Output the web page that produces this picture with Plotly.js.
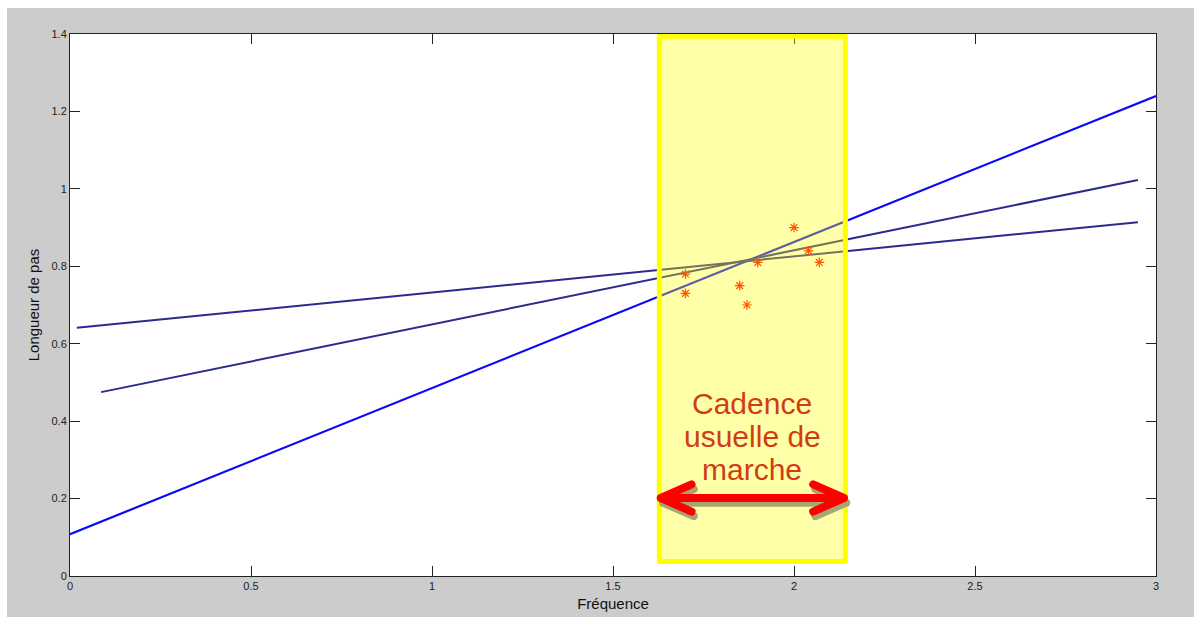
<!DOCTYPE html>
<html>
<head>
<meta charset="utf-8">
<script src="https://cdn.plot.ly/plotly-3.0.1.min.js"></script>
<style>
  html, body { margin: 0; padding: 0; background: #ffffff; }
  #chart { position: absolute; left: 7px; top: 8px; width: 1187px; height: 609px; }
  .shapelayer path { stroke-linecap: round; stroke-linejoin: round; }
</style>
</head>
<body>
<div id="chart"></div>
<script>
// Regression lines (endpoints)
const line1X = [0, 3];
const line1Y = [0.108, 1.240];
const line2X = [0.086, 2.95];
const line2Y = [0.475, 1.023];
const line3X = [0.019, 2.95];
const line3Y = [0.641, 0.914];

// Measured points (red asterisks)
const freq = [1.70, 1.70, 1.85, 1.87, 1.90, 2.00, 2.04, 2.07];
const stepLen = [0.78, 0.73, 0.75, 0.70, 0.81, 0.90, 0.84, 0.81];

// Highlighted band (usual walking cadence)
const bandX = [1.628, 2.142];
const bandY = [0.0375, 1.394];
const arrowY = 0.2015;
const noteLines = ['Cadence', 'usuelle de', 'marche'];
const noteY = [0.4456, 0.3604, 0.2751];

const xTicks = [0, 0.5, 1, 1.5, 2, 2.5, 3];
const xTickText = ['0', '0.5', '1', '1.5', '2', '2.5', '3'];
const yTicks = [0, 0.2, 0.4, 0.6, 0.8, 1, 1.2, 1.4];
const yTickText = ['0', '0.2', '0.4', '0.6', '0.8', '1', '1.2', '1.4'];

const traces = [
  { x: line1X, y: line1Y, mode: 'lines', line: { color: '#0a0af5', width: 2.2 }, hoverinfo: 'skip' },
  { x: line2X, y: line2Y, mode: 'lines', line: { color: '#2b2b8e', width: 2 }, hoverinfo: 'skip' },
  { x: line3X, y: line3Y, mode: 'lines', line: { color: '#2b2b8e', width: 2 }, hoverinfo: 'skip' },
  { x: freq, y: stepLen, mode: 'markers',
    marker: { symbol: 'asterisk-open', size: 8, color: '#ff0000', line: { color: '#ff0000', width: 1.2 } } }
];

// arrow geometry derived from band
const tipL = bandX[0] + 0.004, tipR = bandX[1] - 0.004;
const headDx = 0.085, headDy = 0.035;
const sdx = 0.006, sdy = -0.012;
function arrowPath(dx, dy) {
  const y = arrowY + dy;
  const l = tipL + dx, r = tipR + dx;
  return 'M' + l + ',' + y + ' L' + r + ',' + y +
    ' M' + (l + headDx) + ',' + (y + headDy) + ' L' + l + ',' + y + ' L' + (l + headDx) + ',' + (y - headDy) +
    ' M' + (r - headDx) + ',' + (y + headDy) + ' L' + r + ',' + y + ' L' + (r - headDx) + ',' + (y - headDy);
}

const shapes = [
  { type: 'rect', xref: 'x', yref: 'y', x0: bandX[0], x1: bandX[1], y0: bandY[0], y1: bandY[1],
    fillcolor: 'rgba(255,255,0,0.34)', line: { color: '#ffff00', width: 5 }, layer: 'above' },
  { type: 'path', xref: 'x', yref: 'y', path: arrowPath(sdx, sdy),
    line: { color: '#a6a672', width: 8 }, layer: 'above' },
  { type: 'path', xref: 'x', yref: 'y', path: arrowPath(0, 0),
    line: { color: '#ff0000', width: 8 }, layer: 'above' }
];

const annotations = noteLines.map((t, i) => ({
  x: (bandX[0] + bandX[1]) / 2, y: noteY[i], xref: 'x', yref: 'y',
  text: t, showarrow: false,
  font: { family: 'Liberation Sans, Arial, sans-serif', size: 30, color: '#d23c14' }
}));

const axisCommon = {
  showgrid: false, zeroline: false, showline: true, mirror: 'ticks',
  linecolor: '#222', linewidth: 1, ticks: 'inside', ticklen: 10, tickcolor: '#222',
  tickfont: { family: 'Liberation Sans, Arial, sans-serif', size: 11, color: '#222' }
};

const layout = {
  width: 1187, height: 609,
  margin: { l: 63, r: 38, t: 26, b: 41 },
  paper_bgcolor: '#cccccc', plot_bgcolor: '#ffffff',
  showlegend: false,
  xaxis: Object.assign({}, axisCommon, {
    range: [0, 3], tickvals: xTicks, ticktext: xTickText,
    title: { text: 'Fréquence', standoff: 7, font: { family: 'Liberation Sans, Arial, sans-serif', size: 15, color: '#111' } }
  }),
  yaxis: Object.assign({}, axisCommon, {
    range: [0, 1.4], tickvals: yTicks, ticktext: yTickText,
    title: { text: 'Longueur de pas', standoff: 8, font: { family: 'Liberation Sans, Arial, sans-serif', size: 15, color: '#111' } }
  }),
  shapes: shapes,
  annotations: annotations
};

Plotly.newPlot('chart', traces, layout, { displayModeBar: false, staticPlot: true });
</script>
</body>
</html>
